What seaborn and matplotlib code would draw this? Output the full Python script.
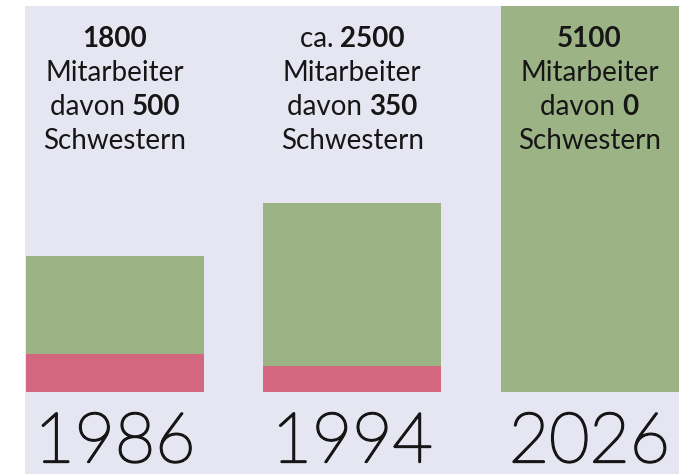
import matplotlib
matplotlib.use("Agg")
import matplotlib.pyplot as plt
import matplotlib.transforms as mtransforms
import matplotlib.patheffects as pe
import seaborn as sns
import pandas as pd

# Daten
jahre = ["1986", "1994", "2026"]
mitarbeiter = [1800, 2500, 5100]
schwestern = [500, 350, 0]
praefix = ["", "ca. ", ""]

GRUEN = "#9cb385"
ROSA = "#d36780"
HINTERGRUND = "#e5e6f2"
TEXT = "#161616"
FONT = "Lato"

sns.set_theme(style="white")
plt.rcParams["font.family"] = [FONT, "DejaVu Sans"]

fig = plt.figure(figsize=(6.9, 4.74), dpi=100)
fig.patch.set_facecolor("white")
ax = fig.add_axes([25 / 690, 0, 654 / 690, 468 / 474])
ax.set_facecolor(HINTERGRUND)

df = pd.DataFrame({"Jahr": jahre, "Mitarbeiter": mitarbeiter, "Schwestern": schwestern})
sns.barplot(data=df, x="Jahr", y="Mitarbeiter", color=GRUEN, width=0.75,
            saturation=1, ax=ax, linewidth=0)
sns.barplot(data=df, x="Jahr", y="Schwestern", color=ROSA, width=0.75,
            saturation=1, ax=ax, linewidth=0)

ax.set_xlim(-0.379, 2.377)
ax.set_ylim(-1083, 5100)
ax.set_xticks([])
ax.set_yticks([])
ax.set_xlabel("")
ax.set_ylabel("")
for s in ax.spines.values():
    s.set_visible(False)

# Jahreszahlen unter den Balken (duenn, leicht verstaerkt)
for i, j in enumerate(jahre):
    ax.text(i, -925, j, ha="center", va="baseline", fontsize=50,
            fontweight="light", color=TEXT, family=[FONT, "DejaVu Sans"],
            path_effects=[pe.withStroke(linewidth=1.6, foreground=TEXT)])

# Beschriftung ueber den Balken (gemischt fett/normal)
renderer = fig.canvas.get_renderer()
blend = mtransforms.blended_transform_factory(ax.transData, fig.transFigure)
GROESSE = 20


def zeile(x, y_px, teile):
    breiten = []
    for txt, gew in teile:
        t = fig.text(0, 0, txt, fontsize=GROESSE, fontweight=gew,
                     family=[FONT, "DejaVu Sans"])
        breiten.append(t.get_window_extent(renderer).width)
        t.remove()
    start = -sum(breiten) / 2
    for (txt, gew), b in zip(teile, breiten):
        tr = mtransforms.offset_copy(blend, fig=fig, x=start, y=0, units="dots")
        fig.text(x, 1 - y_px / 474, txt, transform=tr, fontsize=GROESSE,
                 fontweight=gew, color=TEXT, ha="left", va="baseline",
                 family=[FONT, "DejaVu Sans"])
        start += b


for i in range(len(jahre)):
    teile1 = []
    if praefix[i]:
        teile1.append((praefix[i], "normal"))
    teile1.append((str(mitarbeiter[i]), "bold"))
    zeile(i, 47, teile1)
    zeile(i, 81, [("Mitarbeiter", "normal")])
    zeile(i, 115, [("davon ", "normal"), (str(schwestern[i]), "bold")])
    zeile(i, 149, [("Schwestern", "normal")])

fig.savefig("out.png", dpi=100, facecolor="white")
